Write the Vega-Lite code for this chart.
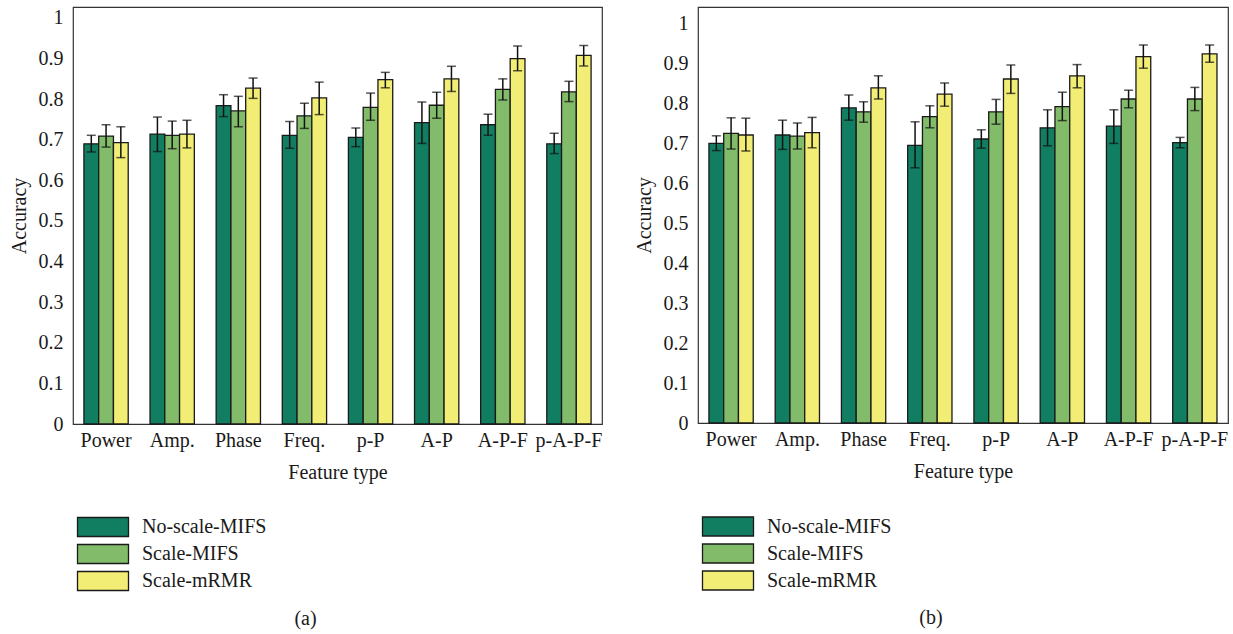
{
  "$schema": "https://vega.github.io/schema/vega-lite/v6.json",
  "padding": {"left": 8, "top": 6, "right": 0, "bottom": 0},
  "background": "white",
  "config": {
    "font": "Liberation Serif",
    "view": {"stroke": "#333333", "strokeWidth": 1.2},
    "axis": {"grid": false, "ticks": false, "domain": false, "labelFont": "Liberation Serif", "labelFontSize": 20, "labelColor": "#1a1a1a", "titleFont": "Liberation Serif", "titleFontSize": 20, "titleFontWeight": "normal", "titleColor": "#1a1a1a"},
    "axisY": {"labelPadding": 10, "titlePadding": 9},
    "axisX": {"labelPadding": 6, "titlePadding": 12, "labelAngle": 0},
    "title": {"font": "Liberation Serif", "fontSize": 20, "fontWeight": "normal", "color": "#1a1a1a"}
  },
  "datasets": {
    "a": [
      {"feature": "Power", "method": "No-scale-MIFS", "acc": 0.690, "lo": 0.670, "hi": 0.711},
      {"feature": "Power", "method": "Scale-MIFS", "acc": 0.709, "lo": 0.682, "hi": 0.737},
      {"feature": "Power", "method": "Scale-mRMR", "acc": 0.693, "lo": 0.656, "hi": 0.732},
      {"feature": "Amp.", "method": "No-scale-MIFS", "acc": 0.714, "lo": 0.671, "hi": 0.756},
      {"feature": "Amp.", "method": "Scale-MIFS", "acc": 0.711, "lo": 0.678, "hi": 0.746},
      {"feature": "Amp.", "method": "Scale-mRMR", "acc": 0.714, "lo": 0.680, "hi": 0.748},
      {"feature": "Phase", "method": "No-scale-MIFS", "acc": 0.784, "lo": 0.757, "hi": 0.811},
      {"feature": "Phase", "method": "Scale-MIFS", "acc": 0.771, "lo": 0.732, "hi": 0.807},
      {"feature": "Phase", "method": "Scale-mRMR", "acc": 0.827, "lo": 0.802, "hi": 0.852},
      {"feature": "Freq.", "method": "No-scale-MIFS", "acc": 0.711, "lo": 0.679, "hi": 0.745},
      {"feature": "Freq.", "method": "Scale-MIFS", "acc": 0.759, "lo": 0.728, "hi": 0.790},
      {"feature": "Freq.", "method": "Scale-mRMR", "acc": 0.803, "lo": 0.762, "hi": 0.842},
      {"feature": "p-P", "method": "No-scale-MIFS", "acc": 0.706, "lo": 0.683, "hi": 0.729},
      {"feature": "p-P", "method": "Scale-MIFS", "acc": 0.780, "lo": 0.748, "hi": 0.815},
      {"feature": "p-P", "method": "Scale-mRMR", "acc": 0.848, "lo": 0.828, "hi": 0.866},
      {"feature": "A-P", "method": "No-scale-MIFS", "acc": 0.742, "lo": 0.691, "hi": 0.793},
      {"feature": "A-P", "method": "Scale-MIFS", "acc": 0.785, "lo": 0.753, "hi": 0.817},
      {"feature": "A-P", "method": "Scale-mRMR", "acc": 0.850, "lo": 0.819, "hi": 0.881},
      {"feature": "A-P-F", "method": "No-scale-MIFS", "acc": 0.737, "lo": 0.711, "hi": 0.763},
      {"feature": "A-P-F", "method": "Scale-MIFS", "acc": 0.824, "lo": 0.798, "hi": 0.850},
      {"feature": "A-P-F", "method": "Scale-mRMR", "acc": 0.900, "lo": 0.870, "hi": 0.931},
      {"feature": "p-A-P-F", "method": "No-scale-MIFS", "acc": 0.690, "lo": 0.666, "hi": 0.716},
      {"feature": "p-A-P-F", "method": "Scale-MIFS", "acc": 0.818, "lo": 0.794, "hi": 0.844},
      {"feature": "p-A-P-F", "method": "Scale-mRMR", "acc": 0.908, "lo": 0.882, "hi": 0.932}
    ],
    "b": [
      {"feature": "Power", "method": "No-scale-MIFS", "acc": 0.699, "lo": 0.681, "hi": 0.718},
      {"feature": "Power", "method": "Scale-MIFS", "acc": 0.724, "lo": 0.685, "hi": 0.763},
      {"feature": "Power", "method": "Scale-mRMR", "acc": 0.720, "lo": 0.680, "hi": 0.762},
      {"feature": "Amp.", "method": "No-scale-MIFS", "acc": 0.720, "lo": 0.684, "hi": 0.757},
      {"feature": "Amp.", "method": "Scale-MIFS", "acc": 0.717, "lo": 0.685, "hi": 0.750},
      {"feature": "Amp.", "method": "Scale-mRMR", "acc": 0.726, "lo": 0.688, "hi": 0.764},
      {"feature": "Phase", "method": "No-scale-MIFS", "acc": 0.788, "lo": 0.757, "hi": 0.820},
      {"feature": "Phase", "method": "Scale-MIFS", "acc": 0.778, "lo": 0.752, "hi": 0.803},
      {"feature": "Phase", "method": "Scale-mRMR", "acc": 0.838, "lo": 0.810, "hi": 0.868},
      {"feature": "Freq.", "method": "No-scale-MIFS", "acc": 0.694, "lo": 0.638, "hi": 0.753},
      {"feature": "Freq.", "method": "Scale-MIFS", "acc": 0.766, "lo": 0.738, "hi": 0.793},
      {"feature": "Freq.", "method": "Scale-mRMR", "acc": 0.822, "lo": 0.792, "hi": 0.850},
      {"feature": "p-P", "method": "No-scale-MIFS", "acc": 0.710, "lo": 0.687, "hi": 0.733},
      {"feature": "p-P", "method": "Scale-MIFS", "acc": 0.778, "lo": 0.747, "hi": 0.809},
      {"feature": "p-P", "method": "Scale-mRMR", "acc": 0.860, "lo": 0.824, "hi": 0.895},
      {"feature": "A-P", "method": "No-scale-MIFS", "acc": 0.738, "lo": 0.693, "hi": 0.783},
      {"feature": "A-P", "method": "Scale-MIFS", "acc": 0.791, "lo": 0.756, "hi": 0.827},
      {"feature": "A-P", "method": "Scale-mRMR", "acc": 0.868, "lo": 0.838, "hi": 0.896},
      {"feature": "A-P-F", "method": "No-scale-MIFS", "acc": 0.742, "lo": 0.699, "hi": 0.783},
      {"feature": "A-P-F", "method": "Scale-MIFS", "acc": 0.810, "lo": 0.788, "hi": 0.832},
      {"feature": "A-P-F", "method": "Scale-mRMR", "acc": 0.916, "lo": 0.887, "hi": 0.945},
      {"feature": "p-A-P-F", "method": "No-scale-MIFS", "acc": 0.701, "lo": 0.688, "hi": 0.714},
      {"feature": "p-A-P-F", "method": "Scale-MIFS", "acc": 0.810, "lo": 0.781, "hi": 0.839},
      {"feature": "p-A-P-F", "method": "Scale-mRMR", "acc": 0.923, "lo": 0.902, "hi": 0.945}
    ]
  },
  "spacing": 30,
  "resolve": {"scale": {"color": "independent"}, "legend": {"color": "independent"}},
  "hconcat": [
    {
      "width": 529,
      "height": 417,
      "title": {"text": "(a)", "orient": "bottom", "anchor": "middle", "frame": "bounds", "offset": 15},
      "data": {"name": "a"},
      "encoding": {
        "x": {"field": "feature", "type": "nominal", "sort": ["Power", "Amp.", "Phase", "Freq.", "p-P", "A-P", "A-P-F", "p-A-P-F"], "scale": {"paddingInner": 0.33, "paddingOuter": 0.165}, "title": "Feature type"},
        "xOffset": {"field": "method", "type": "nominal", "sort": ["No-scale-MIFS", "Scale-MIFS", "Scale-mRMR"], "scale": {"paddingInner": 0, "paddingOuter": 0}}
      },
      "layer": [
        {
          "mark": {"type": "bar", "stroke": "#1a1a1a", "strokeWidth": 1.3},
          "encoding": {
            "y": {"field": "acc", "type": "quantitative", "title": "Accuracy", "scale": {"domain": [0, 1.027], "nice": false, "zero": true}, "axis": {"values": [0, 0.1, 0.2, 0.3, 0.4, 0.5, 0.6, 0.7, 0.8, 0.9, 1], "format": "~g"}},
            "color": {"field": "method", "type": "nominal", "sort": ["No-scale-MIFS", "Scale-MIFS", "Scale-mRMR"], "scale": {"domain": ["No-scale-MIFS", "Scale-MIFS", "Scale-mRMR"], "range": ["#117e62", "#82bc6a", "#f2ed74"]}, "legend": {"orient": "none", "direction": "vertical", "legendX": 19.5, "legendY": 509.5, "title": null, "symbolType": "M-2.684,-1H2.684V1H-2.684Z", "symbolSize": 361, "symbolStrokeColor": "#1a1a1a", "symbolStrokeWidth": 1.3, "symbolOpacity": 1, "labelFont": "Liberation Serif", "labelFontSize": 20, "labelColor": "#1a1a1a", "labelOffset": 28.5, "rowPadding": 2}}
          }
        },
        {
          "mark": {"type": "rule", "color": "#111111", "strokeWidth": 1.5},
          "encoding": {"y": {"field": "lo", "type": "quantitative", "title": "Accuracy"}, "y2": {"field": "hi"}}
        },
        {
          "mark": {"type": "tick", "color": "#111111", "size": 9, "thickness": 1.5, "orient": "horizontal"},
          "encoding": {"y": {"field": "lo", "type": "quantitative", "title": "Accuracy"}}
        },
        {
          "mark": {"type": "tick", "color": "#111111", "size": 9, "thickness": 1.5, "orient": "horizontal"},
          "encoding": {"y": {"field": "hi", "type": "quantitative", "title": "Accuracy"}}
        }
      ]
    },
    {
      "width": 530,
      "height": 416,
      "title": {"text": "(b)", "orient": "bottom", "anchor": "middle", "frame": "bounds", "offset": 15},
      "data": {"name": "b"},
      "encoding": {
        "x": {"field": "feature", "type": "nominal", "sort": ["Power", "Amp.", "Phase", "Freq.", "p-P", "A-P", "A-P-F", "p-A-P-F"], "scale": {"paddingInner": 0.33, "paddingOuter": 0.165}, "title": "Feature type"},
        "xOffset": {"field": "method", "type": "nominal", "sort": ["No-scale-MIFS", "Scale-MIFS", "Scale-mRMR"], "scale": {"paddingInner": 0, "paddingOuter": 0}}
      },
      "layer": [
        {
          "mark": {"type": "bar", "stroke": "#1a1a1a", "strokeWidth": 1.3},
          "encoding": {
            "y": {"field": "acc", "type": "quantitative", "title": "Accuracy", "scale": {"domain": [0, 1.04], "nice": false, "zero": true}, "axis": {"values": [0, 0.1, 0.2, 0.3, 0.4, 0.5, 0.6, 0.7, 0.8, 0.9, 1], "format": "~g"}},
            "color": {"field": "method", "type": "nominal", "sort": ["No-scale-MIFS", "Scale-MIFS", "Scale-mRMR"], "scale": {"domain": ["No-scale-MIFS", "Scale-MIFS", "Scale-mRMR"], "range": ["#117e62", "#82bc6a", "#f2ed74"]}, "legend": {"orient": "none", "direction": "vertical", "legendX": 19.5, "legendY": 509, "title": null, "symbolType": "M-2.684,-1H2.684V1H-2.684Z", "symbolSize": 361, "symbolStrokeColor": "#1a1a1a", "symbolStrokeWidth": 1.3, "symbolOpacity": 1, "labelFont": "Liberation Serif", "labelFontSize": 20, "labelColor": "#1a1a1a", "labelOffset": 28.5, "rowPadding": 2}}
          }
        },
        {
          "mark": {"type": "rule", "color": "#111111", "strokeWidth": 1.5},
          "encoding": {"y": {"field": "lo", "type": "quantitative", "title": "Accuracy"}, "y2": {"field": "hi"}}
        },
        {
          "mark": {"type": "tick", "color": "#111111", "size": 9, "thickness": 1.5, "orient": "horizontal"},
          "encoding": {"y": {"field": "lo", "type": "quantitative", "title": "Accuracy"}}
        },
        {
          "mark": {"type": "tick", "color": "#111111", "size": 9, "thickness": 1.5, "orient": "horizontal"},
          "encoding": {"y": {"field": "hi", "type": "quantitative", "title": "Accuracy"}}
        }
      ]
    }
  ]
}
